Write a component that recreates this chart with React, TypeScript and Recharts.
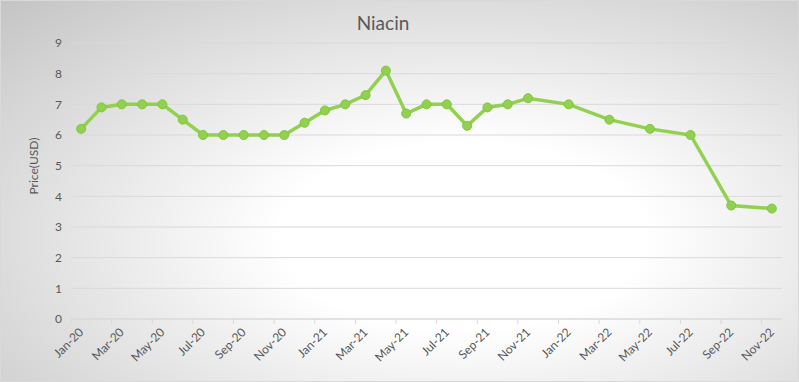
import React from 'react';
import { LineChart, Line, XAxis, YAxis, CartesianGrid } from 'recharts';

// monthly niacin price, gaps where no quote was published
const months = [
  'Jan-20', 'Feb-20', 'Mar-20', 'Apr-20', 'May-20', 'Jun-20', 'Jul-20', 'Aug-20', 'Sep-20', 'Oct-20', 'Nov-20', 'Dec-20',
  'Jan-21', 'Feb-21', 'Mar-21', 'Apr-21', 'May-21', 'Jun-21', 'Jul-21', 'Aug-21', 'Sep-21', 'Oct-21', 'Nov-21', 'Dec-21',
  'Jan-22', 'Feb-22', 'Mar-22', 'Apr-22', 'May-22', 'Jun-22', 'Jul-22', 'Aug-22', 'Sep-22', 'Oct-22', 'Nov-22',
];

const prices: (number | null)[] = [
  6.2, 6.9, 7.0, 7.0, 7.0, 6.5, 6.0, 6.0, 6.0, 6.0, 6.0, 6.4,
  6.8, 7.0, 7.3, 8.1, 6.7, 7.0, 7.0, 6.3, 6.9, 7.0, 7.2, null,
  7.0, null, 6.5, null, 6.2, null, 6.0, null, 3.7, null, 3.6,
];

const yTicks = [0, 1, 2, 3, 4, 5, 6, 7, 8, 9];

const data = months.map((m, i) => ({ month: m, price: prices[i] }));

const W = 799;
const H = 382;
const margin = { top: 43, right: 17, left: 0, bottom: 0 };
const yAxisWidth = 71;
const band = (W - margin.left - margin.right - yAxisWidth) / months.length;

const font = 'Lato, "Open Sans", sans-serif';
const textColor = '#595959';
const gridColor = '#d9d9d9';
const green = '#92d050';

function MonthTick(props: any) {
  const { x, y, payload } = props;
  return (
    <g>
      <line x1={x - band / 2} x2={x - band / 2} y1={y} y2={y + 5} stroke={gridColor} />
      <text
        x={x + 3}
        y={y + 14}
        textAnchor="end"
        fontSize={12}
        fill={textColor}
        fontFamily={font}
        transform={`rotate(-45, ${x + 3}, ${y + 14})`}
      >
        {payload.value}
      </text>
    </g>
  );
}

function PriceLabel() {
  return (
    <text
      x={38}
      y={166}
      textAnchor="middle"
      fontSize={12}
      fill={textColor}
      fontFamily={font}
      transform="rotate(-90, 38, 166)"
    >
      Price(USD)
    </text>
  );
}

export default function App() {
  return (
    <div
      style={{
        position: 'absolute',
        left: 0,
        top: 0,
        width: W,
        height: H,
        boxSizing: 'border-box',
        border: '1px solid #d9d9d9',
        background: 'radial-gradient(ellipse at 58% 62%, #ffffff 0%, #ffffff 28%, #c4c4c4 100%)',
      }}
    >
      <div
        style={{
          position: 'absolute',
          left: 0,
          top: 10,
          width: 764,
          textAlign: 'center',
          fontFamily: font,
          fontSize: 19,
          color: textColor,
        }}
      >
        Niacin
      </div>
      <div style={{ position: 'absolute', left: -1, top: -1 }}>
        <LineChart width={W} height={H} data={data} margin={margin}>
          <CartesianGrid vertical={false} stroke={gridColor} />
          <XAxis
            dataKey="month"
            scale="band"
            interval={1}
            height={H - margin.top - margin.bottom - 276}
            axisLine={{ stroke: gridColor }}
            tickLine={false}
            tickSize={0}
            tickMargin={0}
            tick={<MonthTick />}
          />
          <YAxis
            width={yAxisWidth}
            domain={[0, 9]}
            ticks={yTicks}
            interval={0}
            axisLine={false}
            tickLine={false}
            tickSize={0}
            tickMargin={9}
            tick={{ fontSize: 12, fill: textColor, fontFamily: font }}
            label={<PriceLabel />}
          />
          <Line
            dataKey="price"
            stroke={green}
            strokeWidth={3.5}
            connectNulls
            type="linear"
            dot={{ r: 4.5, fill: green, stroke: '#84c440', strokeWidth: 1 }}
            isAnimationActive={false}
          />
        </LineChart>
      </div>
    </div>
  );
}
